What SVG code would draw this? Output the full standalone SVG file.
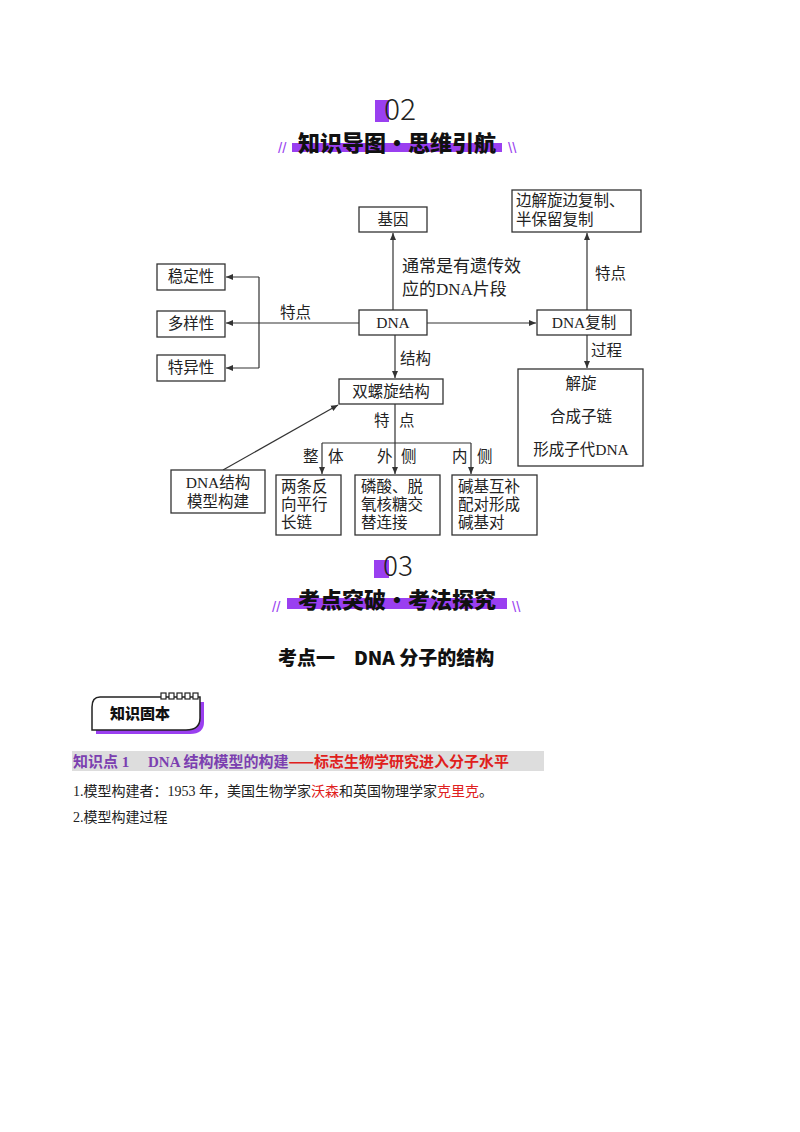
<svg xmlns="http://www.w3.org/2000/svg" width="800" height="1132" viewBox="0 0 800 1132">
<style>
text{font-family:"Liberation Serif","Noto Sans CJK SC",serif;fill:#222}
.b{fill:#fff;stroke:#333;stroke-width:1.3}
.t{font-size:15.5px}
.c{text-anchor:middle}
.l{stroke:#333;stroke-width:1.2;fill:none}
.h{font-family:"Noto Sans CJK SC",sans-serif;font-weight:900;fill:#111}
.p{fill:#9a3ff0}
</style>
<defs><marker id="a" markerWidth="8" markerHeight="8" refX="7" refY="4" orient="auto" markerUnits="userSpaceOnUse"><path d="M0,1L7,4L0,7z" fill="#333"/></marker></defs>
<rect width="800" height="1132" fill="#fff"/>
<g id="header02">
<rect class="p" x="375" y="100" width="14" height="22"/>
<text x="400" y="120" class="c" style="font-family:'Noto Sans CJK SC',sans-serif;font-size:30px;font-weight:300">02</text>
<rect class="p" x="292" y="143" width="210" height="9"/>
<text x="397" y="151" class="c h" style="font-size:22px">知识导图·思维引航</text>
<text x="278" y="153" class="p" style="font-size:15px;font-family:'Liberation Sans',sans-serif">//</text>
<text x="508" y="153" class="p" style="font-size:15px;font-family:'Liberation Sans',sans-serif">\\</text>
</g>
<g id="connectors">
<path class="l" d="M359,323H259M259,277V368"/>
<path class="l" marker-end="url(#a)" d="M259,277H226"/>
<path class="l" marker-end="url(#a)" d="M259,323H226"/>
<path class="l" marker-end="url(#a)" d="M259,368H226"/>
<path class="l" marker-end="url(#a)" d="M393,310V233"/>
<path class="l" marker-end="url(#a)" d="M427,323H536"/>
<path class="l" marker-end="url(#a)" d="M587,310V233"/>
<path class="l" marker-end="url(#a)" d="M587,335V368"/>
<path class="l" marker-end="url(#a)" d="M395,335V378"/>
<path class="l" d="M395,404V443M322,443H471"/>
<path class="l" marker-end="url(#a)" d="M322,443V474"/>
<path class="l" marker-end="url(#a)" d="M395,443V474"/>
<path class="l" marker-end="url(#a)" d="M471,443V474"/>
<path class="l" marker-end="url(#a)" d="M223,470L338,405"/>
<path class="l" marker-end="url(#a)" d="M581,391V405"/>
<path class="l" marker-end="url(#a)" d="M581,424V438"/>
<text x="280" y="318" class="t">特点</text>
<text x="402" y="272" style="font-size:17px">通常是有遗传效</text>
<text x="402" y="295" style="font-size:17px">应的DNA片段</text>
<text x="595" y="279" class="t">特点</text>
<text x="591" y="356" class="t">过程</text>
<text x="400" y="364" class="t">结构</text>
<text x="374" y="426" class="t">特</text><text x="399" y="426" class="t">点</text>
<text x="303" y="462" class="t">整</text><text x="328" y="462" class="t">体</text>
<text x="377" y="462" class="t">外</text><text x="401" y="462" class="t">侧</text>
<text x="452" y="462" class="t">内</text><text x="477" y="462" class="t">侧</text>
</g>
<g id="n-jiyin"><rect class="b" x="359" y="207" width="68" height="25"/><text x="393" y="225" class="t c">基因</text></g>
<g id="n-tedian"><rect class="b" x="512" y="190" width="129" height="42"/><text x="516" y="206" class="t">边解旋边复制、</text><text x="516" y="225" class="t">半保留复制</text></g>
<g id="n-wending"><rect class="b" x="157" y="264" width="68" height="26"/><text x="191" y="282" class="t c">稳定性</text></g>
<g id="n-duoyang"><rect class="b" x="157" y="311" width="68" height="26"/><text x="191" y="329" class="t c">多样性</text></g>
<g id="n-teyi"><rect class="b" x="157" y="355" width="68" height="26"/><text x="191" y="373" class="t c">特异性</text></g>
<g id="n-dna"><rect class="b" x="359" y="310" width="68" height="25"/><text x="393" y="328" class="t c">DNA</text></g>
<g id="n-fuzhi"><rect class="b" x="537" y="310" width="94" height="25"/><text x="584" y="328" class="t c">DNA复制</text></g>
<g id="n-shuang"><rect class="b" x="339" y="379" width="104" height="25"/><text x="391" y="397" class="t c">双螺旋结构</text></g>
<g id="n-process"><rect class="b" x="518" y="369" width="125" height="97"/><text x="581" y="389" class="t c">解旋</text><text x="581" y="422" class="t c">合成子链</text><text x="581" y="455" class="t c">形成子代DNA</text></g>
<g id="n-model"><rect class="b" x="171" y="470" width="94" height="43"/><text x="218" y="488" class="t c">DNA结构</text><text x="218" y="507" class="t c">模型构建</text></g>
<g id="n-liang"><rect class="b" x="276" y="475" width="65" height="60"/><text x="281" y="492" class="t">两条反</text><text x="281" y="510" class="t">向平行</text><text x="281" y="528" class="t">长链</text></g>
<g id="n-linsuan"><rect class="b" x="355" y="475" width="85" height="60"/><text x="361" y="492" class="t">磷酸、脱</text><text x="361" y="510" class="t">氧核糖交</text><text x="361" y="528" class="t">替连接</text></g>
<g id="n-jianji"><rect class="b" x="452" y="475" width="85" height="60"/><text x="458" y="492" class="t">碱基互补</text><text x="458" y="510" class="t">配对形成</text><text x="458" y="528" class="t">碱基对</text></g>
<g id="header03">
<rect class="p" x="374" y="560" width="15" height="18"/>
<text x="398" y="576" class="c" style="font-family:'Noto Sans CJK SC',sans-serif;font-size:28px;font-weight:300">03</text>
<rect class="p" x="287" y="598" width="220" height="11"/>
<text x="397" y="608" class="c h" style="font-size:22px">考点突破·考法探究</text>
<text x="272" y="612" class="p" style="font-size:15px;font-family:'Liberation Sans',sans-serif">//</text>
<text x="512" y="612" class="p" style="font-size:15px;font-family:'Liberation Sans',sans-serif">\\</text>
</g>
<text x="278" y="665" class="h" style="font-size:19px">考点一　DNA 分子的结构</text>
<g id="zhishi">
<path d="M102,702H204V722Q204,734 190,734H96V712Q96,702 102,702Z" class="p"/>
<path d="M100,697H200V718Q200,730 186,730H92V707Q92,697 100,697Z" fill="#fff" stroke="#222" stroke-width="1.5"/>
<g fill="#fff" stroke="#222" stroke-width="1.2"><rect x="161" y="693" width="5" height="6"/><rect x="169" y="693" width="5" height="6"/><rect x="177" y="693" width="5" height="6"/><rect x="185" y="693" width="5" height="6"/><rect x="193" y="693" width="5" height="6"/></g>
<text x="110" y="719" class="h" style="font-size:15px">知识固本</text>
</g>
<rect x="72" y="751" width="472" height="20" fill="#ddd"/>
<text x="73" y="767" style="font-size:15px;font-weight:bold"><tspan style="fill:#7b3fb0">知识点 1　 DNA 结构模型的构建</tspan><tspan style="fill:#e0201c;font-family:'Noto Sans CJK SC',sans-serif">——标志生物学研究进入分子水平</tspan></text>
<text x="73" y="796" style="font-size:14px">1.模型构建者：1953 年，美国生物学家<tspan style="fill:#e02020">沃森</tspan>和英国物理学家<tspan style="fill:#e02020">克里克</tspan>。</text>
<text x="73" y="822" style="font-size:14px">2.模型构建过程</text>
</svg>
